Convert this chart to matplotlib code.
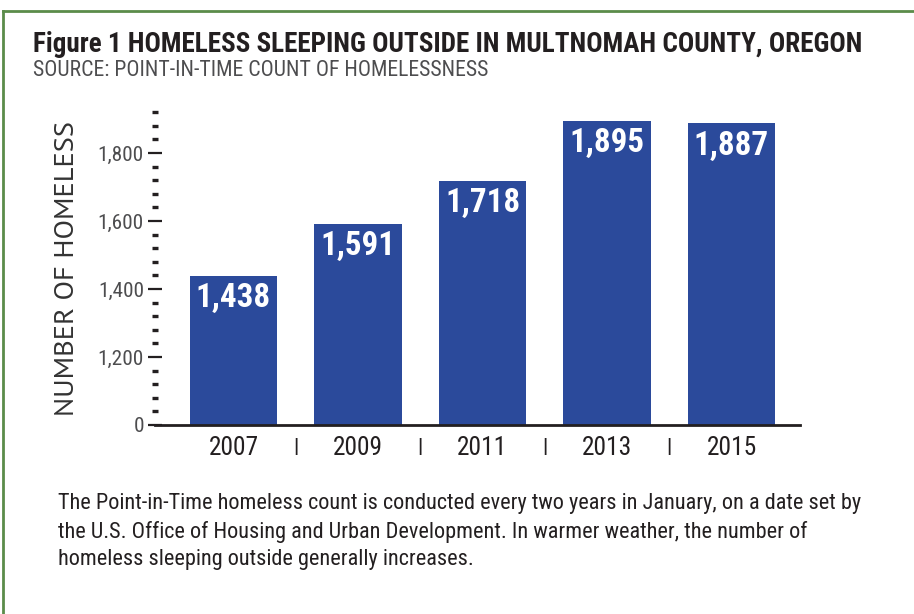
import matplotlib
matplotlib.use("Agg")
import matplotlib.pyplot as plt
from matplotlib import font_manager
from matplotlib.lines import Line2D
from matplotlib.ticker import FixedLocator, MultipleLocator

# data
years = ["2007", "2009", "2011", "2013", "2015"]
counts = [1438, 1591, 1718, 1895, 1887]
tick_values = [1000, 1200, 1400, 1600, 1800]
tick_labels = ["0", "1,200", "1,400", "1,600", "1,800"]

installed = {f.name for f in font_manager.fontManager.ttflist}

def pick(*names):
    for n in names:
        if n in installed:
            return [n, "DejaVu Sans"]
    return ["DejaVu Sans"]

narrow = pick("Roboto Condensed", "Fira Sans Condensed", "PT Sans Narrow",
              "Open Sans Condensed", "Asap Condensed", "Liberation Sans Narrow")
regular = pick("Myriad Pro", "PT Sans", "Open Sans", "Roboto")

bar_color = "#2b4a9b"
dark = "#231f20"

W, H = 914, 614
fig = plt.figure(figsize=(W / 100, H / 100), dpi=100)

def fx(px):
    return px / W

def fy(py):
    return 1 - py / H

# green frame (top and left edge visible)
fig.add_artist(Line2D([fx(3), 1.0], [fy(11), fy(11)], color="#5b8c4a", lw=2))
fig.add_artist(Line2D([fx(3), fx(3)], [0.0, fy(11)], color="#5b8c4a", lw=2))

title = fig.text(fx(33), fy(44), "Figure 1 HOMELESS SLEEPING OUTSIDE IN MULTNOMAH COUNTY, OREGON",
                 family=narrow, fontweight="bold", fontsize=18.5, color=dark, va="center")
sub = fig.text(fx(33), fy(70), "SOURCE: POINT-IN-TIME COUNT OF HOMELESSNESS",
               family=narrow, fontsize=12.5, color="#4d4d4f", va="center")

left, right, base, top = 155, 800, 425, 100.3
ax = fig.add_axes([fx(left), fy(base), fx(right - left), (base - top) / H])

x = list(range(len(years)))
bars = ax.bar(x, counts, width=0.70, color=bar_color)
ax.set_xlim(-(233.5 - left) / 124.5, 4 + (right - 731.5) / 124.5)
ax.set_ylim(1000, 1955)

value_texts = []
for rect, v in zip(bars, counts):
    t = ax.annotate(f"{v:,}", (rect.get_x() + rect.get_width() / 2, v),
                    xytext=(0, -16), textcoords="offset points", ha="center", va="center",
                    color="white", fontweight="bold", fontsize=22, family=narrow)
    value_texts.append(t)

for s in ["top", "right", "left"]:
    ax.spines[s].set_visible(False)
ax.spines["bottom"].set_linewidth(2)
ax.spines["bottom"].set_color(dark)

ax.yaxis.set_major_locator(FixedLocator(tick_values))
ax.set_yticklabels(tick_labels)
ax.yaxis.set_minor_locator(MultipleLocator(40))
ax.tick_params(axis="y", which="major", direction="inout", length=10, width=1.6,
               color=dark, labelsize=14, labelcolor="#4d4d4f", pad=3)
ax.tick_params(axis="y", which="minor", direction="inout", length=5, width=2.4, color=dark)
for lab in ax.get_yticklabels():
    lab.set_family(narrow)

ax.set_xticks(x)
ax.set_xticklabels(years)
ax.tick_params(axis="x", length=0, labelsize=17, labelcolor=dark, pad=8)
for lab in ax.get_xticklabels():
    lab.set_family(narrow)

# separators between the year labels
for i in range(len(years) - 1):
    ax.text(i + 0.5, -0.068, "|", transform=ax.get_xaxis_transform(), ha="center",
            va="center", fontsize=15, fontweight="bold", color=dark, family=narrow)

ylab = fig.text(fx(67), fy(268), "NUMBER OF HOMELESS", rotation=90, family=regular,
                fontsize=20, color="#333333", ha="center", va="center")

caption_lines = [
    "The Point-in-Time homeless count is conducted every two years in January, on a date set by",
    "the U.S. Office of Housing and Urban Development. In warmer weather, the number of",
    "homeless sleeping outside generally increases.",
]
cap_texts = [fig.text(fx(58), fy(504 + 28 * i), line, family=narrow, fontsize=14,
                      color=dark, va="center")
             for i, line in enumerate(caption_lines)]

# size the texts so their widths match the reference picture
def fit(texts, width_px, measure=None, vertical=False):
    for _ in range(2):
        r = fig.canvas.get_renderer()
        m = measure if measure is not None else texts[0]
        bb = m.get_window_extent(r)
        size = bb.height if vertical else bb.width
        scale = width_px / size
        for t in texts:
            t.set_fontsize(t.get_fontsize() * scale)

fig.canvas.draw()
fit([title], 829)
fit([sub], 454)
fit([ylab], 295, vertical=True)
fit(value_texts, 75)
fit(ax.get_xticklabels(), 50)
fit(ax.get_yticklabels(), 46, measure=ax.get_yticklabels()[-1])
fit(cap_texts, 800)

fig.savefig("out.png", dpi=100)
